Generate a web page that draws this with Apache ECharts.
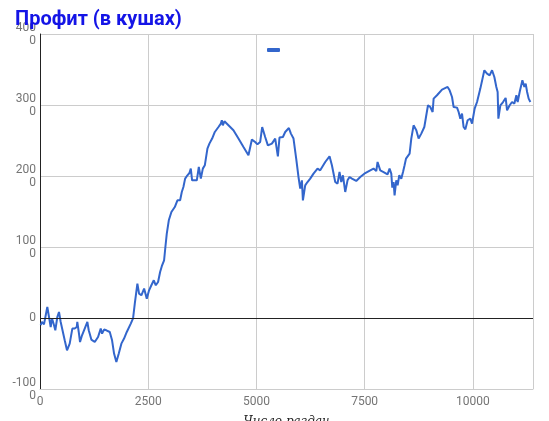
<!DOCTYPE html>
<html>
<head>
<meta charset="utf-8">
<script src="https://cdn.jsdelivr.net/npm/echarts@6/dist/echarts.min.js"></script>
<style>html,body{margin:0;padding:0;background:#fff}#c{width:549px;height:421px}</style>
</head>
<body>
<div id="c"></div>
<script>
var chartTitle = 'Профит (в кушах)';
var xAxisTitle = 'Число раздач';
var hands = [16,46,92,123,169,208,247,277,324,354,400,439,478,516,571,624,686,747,802,849,862,895,925,971,1033,1094,1126,1186,1265,1341,1403,1434,1480,1533,1612,1665,1711,1764,1820,1880,1942,2005,2097,2150,2190,2250,2289,2342,2405,2467,2520,2573,2629,2675,2728,2775,2821,2867,2897,2929,2976,3036,3114,3175,3198,3237,3276,3313,3353,3406,3452,3484,3514,3561,3623,3669,3716,3762,3808,3838,3868,3914,3977,4039,4123,4178,4201,4224,4261,4354,4469,4585,4701,4816,4895,4971,5024,5087,5133,5202,5265,5357,5434,5496,5533,5612,5665,5750,5797,5857,5919,5972,6012,6051,6074,6127,6180,6243,6319,6412,6474,6590,6689,6744,6821,6874,6920,6960,6999,7052,7105,7151,7207,7306,7399,7514,7630,7706,7769,7799,7861,7938,8030,8076,8116,8139,8169,8192,8231,8262,8301,8347,8387,8423,8456,8493,8539,8578,8631,8694,8747,8809,8879,8918,8964,9017,9071,9094,9172,9288,9417,9464,9519,9556,9635,9672,9711,9750,9787,9827,9880,9942,9981,10042,10097,10173,10266,10328,10388,10444,10497,10543,10573,10590,10636,10698,10758,10791,10851,10906,10960,11006,11036,11082,11145,11191,11221,11254,11290,11329];
var profit = [-100,-56,-89,-70,155,14,-127,-4,-103,-173,14,85,-56,-79,-314,-455,-361,-149,-149,-127,-56,-197,-338,-244,-149,-56,-173,-304,-338,-268,-149,-220,-163,-173,-197,-314,-501,-620,-501,-361,-290,-197,-79,-4,203,485,344,320,414,273,390,461,531,461,507,648,742,813,1000,1189,1376,1493,1563,1658,1682,1658,1775,1845,1963,2010,2042,2104,1939,1939,1939,2127,1963,2104,2151,2175,2386,2456,2527,2620,2690,2738,2785,2714,2770,2714,2644,2527,2408,2292,2513,2479,2446,2479,2690,2549,2432,2456,2527,2277,2541,2549,2620,2676,2597,2527,2245,1986,1823,1939,1657,1869,1915,1963,2034,2104,2080,2197,2277,2151,1915,1893,2056,1915,2010,1775,1939,1986,1963,1930,1986,2042,2080,2104,2070,2197,2080,2056,2024,2104,2034,1837,1915,1728,1939,1869,2010,1963,2056,2151,2245,2221,2315,2527,2714,2644,2527,2597,2690,2831,2996,2972,2901,3090,3137,3217,3254,3207,3113,2972,2963,2901,2808,2879,2690,2658,2785,2808,2738,2949,3042,3231,3489,3442,3418,3489,3394,3254,3183,2808,2996,3042,3099,2925,2996,3042,3020,3137,3042,3183,3348,3254,3301,3183,3090,3042];
var xTicks = [0, 2500, 5000, 7500, 10000];
var yTicks = [-1000, 0, 1000, 2000, 3000, 4000];

var chart = echarts.init(document.getElementById('c'));
var pts = hands.map(function (h, i) { return [h, profit[i]]; });
chart.setOption({
  animation: false,
  title: {
    text: chartTitle, left: 10, top: 5,
    textStyle: { color: '#1414e6', fontSize: 20, fontWeight: 'bold', fontFamily: 'Roboto' }
  },
  legend: {
    left: 262, top: 43, itemWidth: 13, itemHeight: 4, icon: 'roundRect',
    data: [{ name: ' ' }],
    formatter: function () { return ''; },
    itemGap: 0, selectedMode: false
  },
  grid: { left: 40, right: 16, top: 34, bottom: 32, outerBoundsMode: 'none', containLabel: false },
  xAxis: {
    type: 'value', min: 0, max: 11390, interval: 2500,
    name: xAxisTitle, nameLocation: 'middle', nameGap: 27,
    nameTextStyle: { fontFamily: 'DejaVu Serif', fontStyle: 'italic', fontSize: 12, color: '#222' },
    axisLine: { onZero: false, lineStyle: { color: '#cccccc' } },
    axisTick: { show: false },
    axisLabel: {
      color: '#757575', fontSize: 12, fontFamily: 'Roboto', margin: 7,
      showMaxLabel: false,
      formatter: function (v) { return xTicks.indexOf(v) >= 0 ? String(v) : ''; }
    },
    splitLine: { show: true, lineStyle: { color: '#cccccc' } }
  },
  yAxis: {
    type: 'value', min: yTicks[0], max: yTicks[yTicks.length - 1], interval: 1000,
    axisLine: { show: true, lineStyle: { color: '#222222' } },
    axisTick: { show: false },
    axisLabel: {
      color: '#757575', fontSize: 12, fontFamily: 'Roboto', margin: 4, lineHeight: 13,
      formatter: function (v) {
        var s = String(v);
        return s.length > 3 ? s.slice(0, s.length - 1) + '\n' + s.slice(-1) : s;
      }
    },
    splitLine: { show: true, lineStyle: { color: '#cccccc' } }
  },
  series: [{
    name: ' ', type: 'line', data: pts, showSymbol: false, symbol: 'none',
    lineStyle: { color: '#3366cc', width: 2 }, itemStyle: { color: '#3366cc' },
    markLine: {
      silent: true, symbol: 'none', label: { show: false },
      lineStyle: { color: '#222222', type: 'solid', width: 1 },
      data: [{ yAxis: 0 }]
    },
    z: 3
  }]
});
</script>
</body>
</html>
